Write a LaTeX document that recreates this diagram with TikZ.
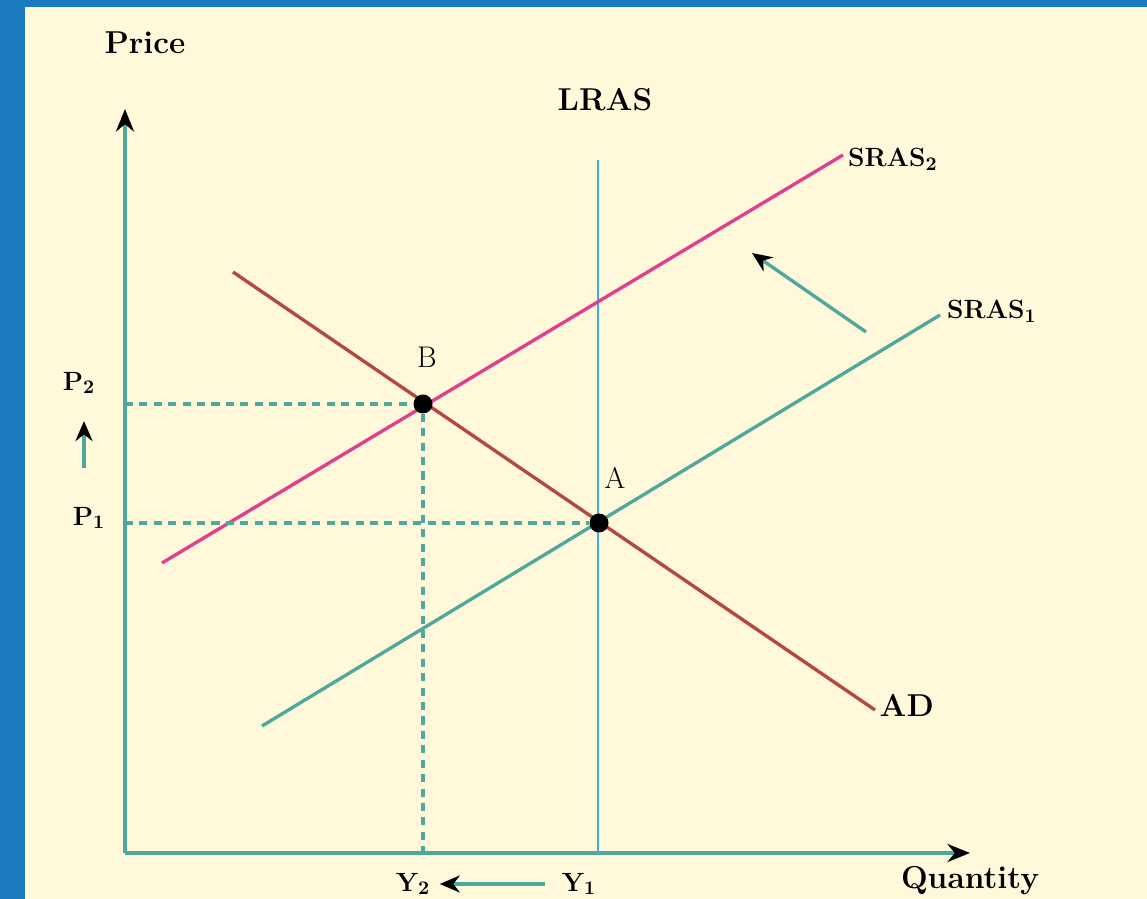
\documentclass[tikz,border=0pt]{standalone}
\usepackage{tikz}
\usetikzlibrary{arrows.meta, positioning}

\definecolor{frameblue}{RGB}{27,124,194}
\definecolor{paper}{RGB}{255,248,218}
\definecolor{axisteal}{RGB}{78,168,156}
\definecolor{srasmag}{RGB}{224,62,142}
\definecolor{adbrown}{RGB}{178,72,62}
\definecolor{lrasblue}{RGB}{64,172,224}

\begin{document}
\begin{tikzpicture}[
  axis/.style={draw=axisteal, line width=2.4pt,
               -{Stealth[length=4.5mm, width=3.6mm, color=black]}},
  curve/.style={line width=1.9pt},
  guide/.style={draw=axisteal, line width=2.1pt, dash pattern=on 4.6pt off 3.6pt},
  movearr/.style={draw=axisteal, line width=1.9pt,
                -{Stealth[length=4mm, width=3.4mm, color=black]}},
  dot/.style={circle, fill=black, inner sep=0pt, minimum size=0.38cm},
  lbl/.style={font=\fontsize{15}{18}\selectfont\bfseries, inner sep=1pt},
  big/.style={font=\fontsize{18}{21}\selectfont\bfseries, inner sep=1pt},
  pt/.style={font=\fontsize{17}{20}\selectfont, inner sep=1pt}
]
  \useasboundingbox (0,0) rectangle (22.94,17.98);

  % ========== BACKGROUND ==========
  \fill[frameblue] (0,0) rectangle (22.94,17.98);
  \fill[paper] (0.5,0) rectangle (22.94,17.84);

  % ========== AXES ==========
  \coordinate (origin) at (2.5,0.92);
  \coordinate (ytop) at (2.5,15.8);
  \coordinate (xend) at (19.4,0.92);
  \draw[axis] (origin) -- (ytop);
  \draw[axis] (origin) -- (xend);
  \node[big] (price) at (2.9,17.12) {Price};
  \node[big, anchor=north] (quantity) at (19.4,0.7) {Quantity};

  % ========== LRAS ==========
  \coordinate (lrastop) at (11.96,14.78);
  \coordinate (lrasbot) at (11.96,0.92);
  \draw[curve, draw=lrasblue, line width=1.6pt] (lrasbot) -- (lrastop);
  \node[big] (lras) at (12.1,15.98) {LRAS};

  % ========== SRAS curves ==========
  \coordinate (sras2s) at (3.24,6.72);
  \coordinate (sras2e) at (16.86,14.88);
  \draw[curve, draw=srasmag] (sras2s) -- (sras2e);
  \node[lbl, anchor=west] (lblsras2) at (16.92,14.8) {SRAS$_{\mathbf{2}}$};

  \coordinate (sras1s) at (5.24,3.46);
  \coordinate (sras1e) at (18.8,11.68);
  \draw[curve, draw=axisteal] (sras1s) -- (sras1e);
  \node[lbl, anchor=west] (lblsras1) at (18.9,11.76) {SRAS$_{\mathbf{1}}$};

  % ========== AD ==========
  \coordinate (ads) at (4.66,12.54);
  \coordinate (ade) at (17.5,3.78);
  \draw[curve, draw=adbrown] (ads) -- (ade);
  \node[big, anchor=west] (lblad) at (17.55,3.88) {AD};

  % ========== EQUILIBRIA ==========
  \node[dot] (dotB) at (8.46,9.9) {};
  \node[pt] (lblB) at (8.54,10.84) {B};
  \node[dot] (dotA) at (11.98,7.52) {};
  \node[pt] (lblA) at (12.3,8.42) {A};

  % ======== GUIDES: price and output ========
  \coordinate (p2axis) at (origin |- dotB);
  \coordinate (p1axis) at (origin |- dotA);
  \coordinate (y2axis) at (origin -| dotB);
  \draw[guide] (p2axis) -- (dotB);
  \draw[guide] (p1axis) -- (dotA);
  \draw[guide] (dotB) -- (y2axis);

  \node[lbl] (lblP2) at (1.58,10.32) {P$_{\mathbf{2}}$};
  \node[lbl] (lblP1) at (1.78,7.62) {P$_{\mathbf{1}}$};
  \node[lbl] (lblY2) at (8.26,0.3) {Y$_{\mathbf{2}}$};
  \node[lbl] (lblY1) at (11.58,0.3) {Y$_{\mathbf{1}}$};

  % ======== SHIFT ARROWS ========
  \coordinate (pup0) at (1.68,8.62);
  \coordinate (pup1) at (1.68,9.56);
  \draw[movearr] (pup0) -- (pup1);
  \draw[movearr, shorten <=0.3cm, shorten >=0.15cm] (lblY1.west) -- (lblY2.east);
  \coordinate (srasfrom) at (17.32,11.34);
  \coordinate (srasto) at (15.04,12.92);
  \draw[movearr] (srasfrom) -- (srasto);

\end{tikzpicture}
\end{document}
